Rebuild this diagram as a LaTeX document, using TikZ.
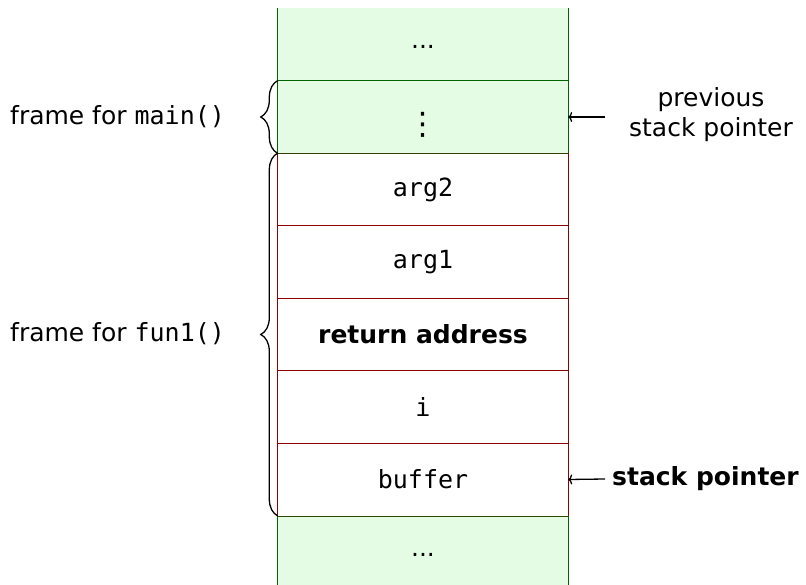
\documentclass[tikz,border=0pt]{standalone}
\usepackage{fontspec}
\setmainfont{DejaVu Sans}
\setmonofont{DejaVu Sans Mono}
\usetikzlibrary{decorations.pathreplacing,arrows.meta}
\definecolor{cellgreen}{HTML}{E3FCE3}
\definecolor{lgreen}{HTML}{006400}
\definecolor{lred}{HTML}{900000}
\tikzset{
  cell/.style={minimum width=290pt, minimum height=72.5pt, inner sep=0pt, font=\fontsize{25}{30}\selectfont},
  gcell/.style={cell, fill=cellgreen},
  wcell/.style={cell, fill=white},
  gline/.style={draw=lgreen, line width=0.9pt},
  rline/.style={draw=lred, line width=0.9pt},
  bracestyle/.style={draw=black, line width=1.3pt, decorate, decoration={brace, amplitude=17pt}},
  ptr/.style={draw=black, line width=1.3pt, -{To[length=4pt, width=10pt]}},
  lbl/.style={font=\fontsize{25}{30}\selectfont, inner sep=0pt}
}
\begin{document}
\begin{tikzpicture}[x=1pt, y=-1pt]
\useasboundingbox (0,0) rectangle (806,585);
\node[gcell] (c0) at (423,44.5) {\raisebox{0pt}[\dimexpr\height+4pt\relax][\depth]{...}};
\node[gcell] (c1) at (423,117) {\fontsize{31}{31}\selectfont\raisebox{0pt}[\dimexpr\height+15pt\relax][\depth]{⋮}};
\node[wcell] (c2) at (423,189.5) {\texttt{arg2}};
\node[wcell] (c3) at (423,262) {\texttt{arg1}};
\node[wcell] (c4) at (423,334.5) {\textbf{return address}};
\node[wcell] (c5) at (423,407) {\texttt{i}};
\node[wcell] (c6) at (423,479.5) {\texttt{buffer}};
\node[gcell, minimum height=80pt] (c7) at (423,556) {\raisebox{0pt}[\height][\dimexpr\depth+3pt\relax]{...}};
% green borders
\draw[gline] (c0.north west) -- (c1.south west);
\draw[gline] (c0.north east) -- (c1.south east);
\draw[gline] (c0.south west) -- (c0.south east);
\draw[gline] (c7.north west) -- (c7.south west);
\draw[gline] (c7.north east) -- (c7.south east);
% red borders
\draw[rline] (c2.north west) -- (c6.south west);
\draw[rline] (c2.north east) -- (c6.south east);
\draw[rline] (c2.north west) -- (c2.north east);
\draw[rline] (c3.north west) -- (c3.north east);
\draw[rline] (c4.north west) -- (c4.north east);
\draw[rline] (c5.north west) -- (c5.north east);
\draw[rline] (c6.north west) -- (c6.north east);
\draw[draw=lgreen!60!lred, line width=0.9pt] (c1.south west) -- (c1.south east);
\draw[draw=lgreen!70!lred, line width=0.9pt] (c6.south west) -- (c6.south east);
% braces
\draw[bracestyle] (c1.south west) -- (c1.north west);
\draw[bracestyle] (c6.south west) -- (c2.north west);
\node[lbl, anchor=west] (lmain) at (10,117) {frame for \texttt{main()}};
\node[lbl, anchor=west] (lfun) at (10,334) {frame for \texttt{fun1()}};
% pointers
\node[lbl, align=center] (psp) at (711,115) {previous\\stack pointer};
\coordinate (a1) at (605,117);
\draw[ptr] (a1) -- (c1.east);
\node[lbl, anchor=west] (sp) at (612,479) {\textbf{stack pointer}};
\coordinate (a2) at (605,479);
\draw[ptr] (a2) -- (c6.east);
\end{tikzpicture}
\end{document}
